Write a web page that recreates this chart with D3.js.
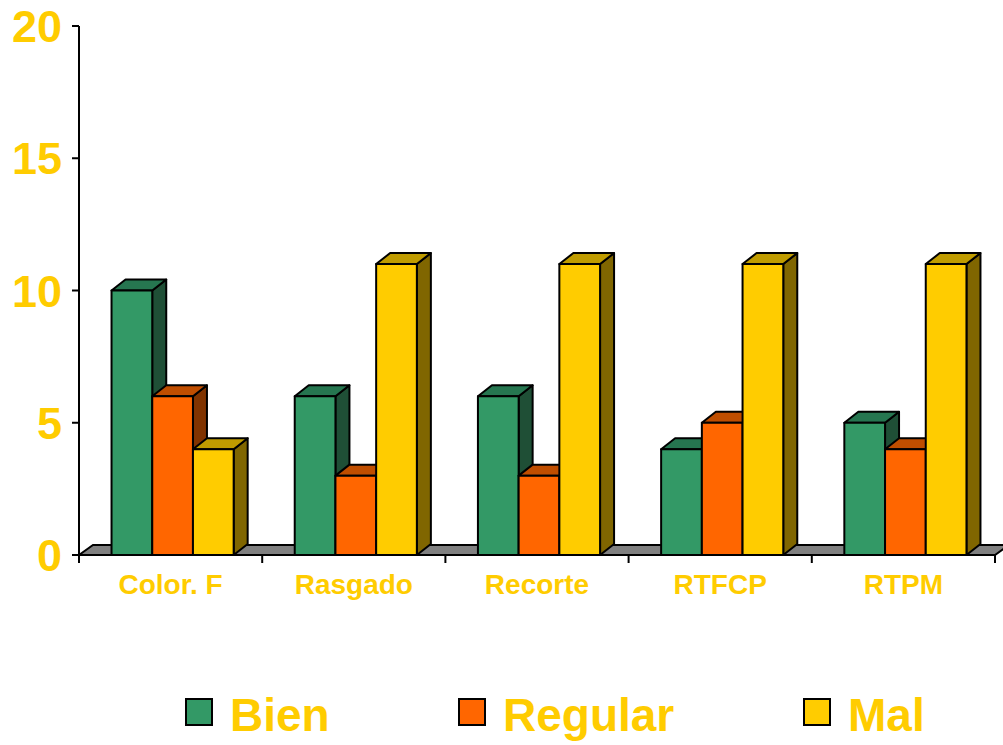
<!DOCTYPE html>
<html>
<head>
<meta charset="utf-8">
<script src="https://cdn.jsdelivr.net/npm/d3@7"></script>
<style>
  body { margin: 0; background: #fff; }
  text { font-family: "Liberation Sans", Arial, sans-serif; font-weight: bold; fill: #FFCC00; }
</style>
</head>
<body>
<script>
const categories = ['Color. F', 'Rasgado', 'Recorte', 'RTFCP', 'RTPM'];
const series = ['Bien', 'Regular', 'Mal'];
const bien = [10, 6, 6, 4, 5];
const regular = [6, 3, 3, 5, 4];
const mal = [4, 11, 11, 11, 11];
const yTicks = [0, 5, 10, 15, 20];
const colors = ['#339966', '#FF6600', '#FFCC00'];
const sideColors = ['#1F4F36', '#803300', '#806600'];
const topColors = ['#267650', '#C04E00', '#C09C00'];

const width = 1003, height = 745;
const depth = { dx: 14, dy: -11 };
const plot = { left: 79, right: 995, top: 26, bottom: 555 };

const values = [bien, regular, mal];
const data = categories.map((c, i) => ({ cat: c, vals: series.map((s, j) => ({ s, j, v: values[j][i] })) }));

const svg = d3.select('body').append('svg')
  .attr('width', width)
  .attr('height', height);

const x = d3.scaleBand()
  .domain(categories)
  .range([plot.left + 2, plot.right + 2])
  .paddingInner(1 / 3)
  .paddingOuter(1 / 6);
const xs = d3.scaleBand()
  .domain(series)
  .range([0, x.bandwidth()]);
const y = d3.scaleLinear()
  .domain([0, 20])
  .range([plot.bottom, plot.top]);

// floor
const y0 = y(0);
svg.append('path')
  .attr('d', `M${plot.left},${y0}L${plot.left + depth.dx},${y0 + depth.dy + 1}L${plot.right + depth.dx},${y0 + depth.dy + 1}L${plot.right},${y0}Z`)
  .attr('fill', '#808080')
  .attr('stroke', '#000')
  .attr('stroke-width', 2);

// y axis
const yAxis = svg.append('g');
yAxis.append('line')
  .attr('x1', plot.left).attr('x2', plot.left)
  .attr('y1', plot.top).attr('y2', plot.bottom)
  .attr('stroke', '#000').attr('stroke-width', 2);
yAxis.selectAll('.tick')
  .data(yTicks)
  .enter().append('line')
  .attr('x1', plot.left - 7).attr('x2', plot.left)
  .attr('y1', d => y(d)).attr('y2', d => y(d))
  .attr('stroke', '#000').attr('stroke-width', 2);
yAxis.selectAll('text')
  .data(yTicks)
  .enter().append('text')
  .attr('x', 62)
  .attr('y', d => y(d))
  .attr('dy', '0.36em')
  .attr('text-anchor', 'end')
  .attr('font-size', 45)
  .text(d => d);

// x axis
const step = (plot.right - plot.left) / categories.length;
const xAxis = svg.append('g');
xAxis.append('line')
  .attr('x1', plot.left).attr('x2', plot.right)
  .attr('y1', y0).attr('y2', y0)
  .attr('stroke', '#000').attr('stroke-width', 2);
xAxis.selectAll('.tick')
  .data(d3.range(categories.length + 1))
  .enter().append('line')
  .attr('x1', d => plot.left + d * step).attr('x2', d => plot.left + d * step)
  .attr('y1', y0).attr('y2', y0 + 8)
  .attr('stroke', '#000').attr('stroke-width', 2);
xAxis.selectAll('text')
  .data(categories)
  .enter().append('text')
  .attr('x', (d, i) => plot.left + (i + 0.5) * step)
  .attr('y', 594)
  .attr('text-anchor', 'middle')
  .attr('font-size', 28)
  .text(d => d);

// 3d bars
const bars = svg.append('g');
data.forEach(d => {
  d.vals.forEach(b => {
    const bx = x(d.cat) + xs(b.s);
    const bw = xs.bandwidth();
    const top = y(b.v);
    const g = bars.append('g')
      .attr('stroke', '#000')
      .attr('stroke-width', 2)
      .attr('stroke-linejoin', 'round');
    // side
    g.append('path')
      .attr('d', `M${bx + bw},${top}L${bx + bw + depth.dx},${top + depth.dy}L${bx + bw + depth.dx},${y0 + depth.dy}L${bx + bw},${y0}Z`)
      .attr('fill', sideColors[b.j]);
    // top
    g.append('path')
      .attr('d', `M${bx},${top}L${bx + depth.dx},${top + depth.dy}L${bx + bw + depth.dx},${top + depth.dy}L${bx + bw},${top}Z`)
      .attr('fill', topColors[b.j]);
    // front
    g.append('rect')
      .attr('x', bx).attr('y', top)
      .attr('width', bw).attr('height', y0 - top)
      .attr('fill', colors[b.j]);
  });
});

// legend
const legendX = [186, 459, 804];
const legend = svg.append('g')
  .selectAll('g')
  .data(series)
  .enter().append('g')
  .attr('transform', (d, i) => `translate(${legendX[i]},699)`);
legend.append('rect')
  .attr('width', 26).attr('height', 26)
  .attr('fill', (d, i) => colors[i])
  .attr('stroke', '#000').attr('stroke-width', 2);
legend.append('text')
  .attr('x', 44)
  .attr('y', 32)
  .attr('font-size', 46)
  .text(d => d);
</script>
</body>
</html>
